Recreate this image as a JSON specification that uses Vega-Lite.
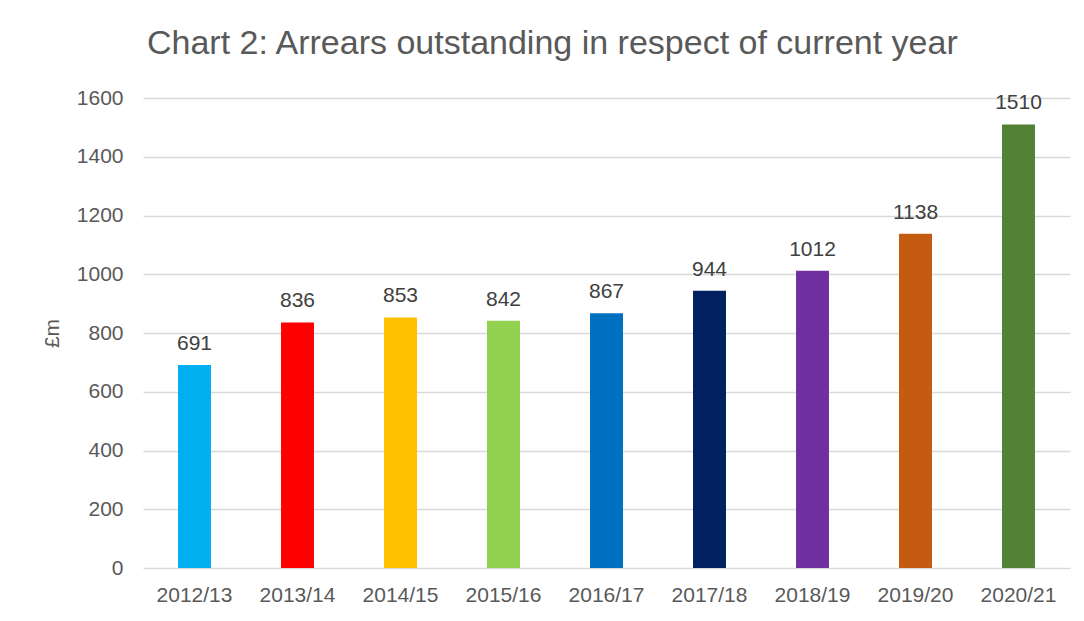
{
  "$schema": "https://vega.github.io/schema/vega-lite/v6.json",
  "autosize": {"type": "none"},
  "width": 927,
  "height": 470,
  "padding": {"left": 143, "top": 98, "right": 14, "bottom": 53},
  "background": "white",
  "title": {
    "text": "Chart 2: Arrears outstanding in respect of current year",
    "anchor": "start",
    "frame": "group",
    "font": "Liberation Sans",
    "fontSize": 34,
    "fontWeight": "normal",
    "color": "#595959",
    "offset": 26,
    "dx": 4
  },
  "data": {
    "values": [
      {"year": "2012/13", "value": 691, "color": "#00B0F0"},
      {"year": "2013/14", "value": 836, "color": "#FF0000"},
      {"year": "2014/15", "value": 853, "color": "#FFC000"},
      {"year": "2015/16", "value": 842, "color": "#92D050"},
      {"year": "2016/17", "value": 867, "color": "#0070C0"},
      {"year": "2017/18", "value": 944, "color": "#002060"},
      {"year": "2018/19", "value": 1012, "color": "#7030A0"},
      {"year": "2019/20", "value": 1138, "color": "#C55A11"},
      {"year": "2020/21", "value": 1510, "color": "#538135"}
    ]
  },
  "encoding": {
    "x": {
      "field": "year", "type": "nominal", "sort": null,
      "scale": {"paddingInner": 0.68, "paddingOuter": 0.34},
      "axis": {
        "title": null, "labelAngle": 0, "domain": false, "ticks": false,
        "labelFont": "Liberation Sans", "labelFontSize": 21, "labelColor": "#595959",
        "labelPadding": 16, "grid": false
      }
    },
    "y": {
      "field": "value", "type": "quantitative",
      "scale": {"domain": [0, 1600]},
      "axis": {
        "title": "£m", "titleFont": "Liberation Sans", "titleFontSize": 21,
        "titleFontWeight": "normal", "titleColor": "#595959", "titlePadding": 14,
        "values": [0, 200, 400, 600, 800, 1000, 1200, 1400, 1600], "format": "d",
        "domain": false, "ticks": false, "labelPadding": 20,
        "labelFont": "Liberation Sans", "labelFontSize": 21, "labelColor": "#595959",
        "gridColor": "#d9d9d9", "gridWidth": 1.5
      }
    }
  },
  "layer": [
    {
      "mark": {"type": "bar"},
      "encoding": {"color": {"field": "color", "type": "nominal", "scale": null}}
    },
    {
      "mark": {"type": "text", "baseline": "alphabetic", "dy": -15, "font": "Liberation Sans", "fontSize": 21, "color": "#404040"},
      "encoding": {"text": {"field": "value", "type": "quantitative"}}
    }
  ],
  "config": {"view": {"stroke": null}}
}
